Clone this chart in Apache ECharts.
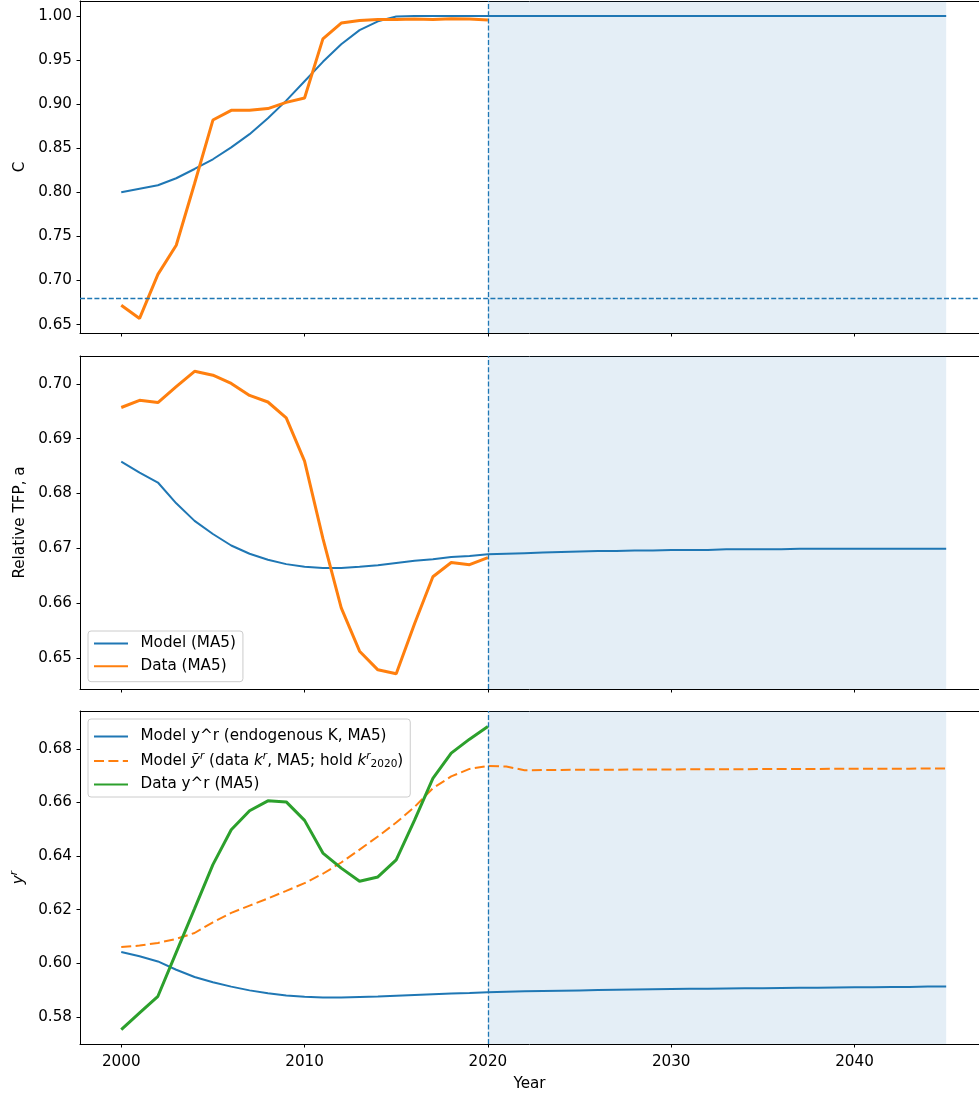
<!DOCTYPE html>
<html>
<head>
<meta charset="utf-8">
<script src="https://cdn.jsdelivr.net/npm/echarts@6/dist/echarts.min.js"></script>
<style>
  html, body { margin: 0; padding: 0; background: #fff; }
  #chart { width: 979px; height: 1095px; }
</style>
</head>
<body>
<div id="chart"></div>
<script>
// Years covered by the model (2000-2045) and by the observed data (2000-2020)
const yearsModel = [2000,2001,2002,2003,2004,2005,2006,2007,2008,2009,2010,2011,2012,2013,2014,2015,
  2016,2017,2018,2019,2020,2021,2022,2023,2024,2025,2026,2027,2028,2029,2030,2031,2032,2033,2034,2035,
  2036,2037,2038,2039,2040,2041,2042,2043,2044,2045];
const yearsData = [2000,2001,2002,2003,2004,2005,2006,2007,2008,2009,2010,2011,2012,2013,2014,2015,
  2016,2017,2018,2019,2020];

// Panel 1: C
const modelC = [0.800,0.804,0.808,0.816,0.8265,0.8375,0.851,0.866,0.884,0.904,0.926,0.948,0.968,0.984,0.994,0.9995,
  1.000,1.000,1.000,1.000,1.000,1.000,1.000,1.000,1.000,1.000,1.000,1.000,1.000,1.000,1.000,1.000,1.000,1.000,1.000,1.000,
  1.000,1.000,1.000,1.000,1.000,1.000,1.000,1.000,1.000,1.000];
const dataC = [0.672,0.657,0.707,0.740,0.810,0.882,0.893,0.893,0.895,0.902,0.907,0.974,0.992,0.995,0.996,0.996,
  0.9965,0.996,0.997,0.9965,0.9955];
const cThreshold = 0.68;

// Panel 2: relative TFP
const modelTFP = [0.6858,0.6838,0.6820,0.6782,0.6750,0.6726,0.6705,0.6690,0.6679,0.6671,0.6666,0.6664,0.6664,0.6666,
  0.6669,0.6673,0.6677,0.6680,0.6684,0.6686,0.6689,0.6690,0.6691,0.6692,0.6693,0.6694,0.6695,0.6695,0.6696,0.6696,
  0.6697,0.6697,0.6697,0.6698,0.6698,0.6698,0.6698,0.6699,0.6699,0.6699,0.6699,0.6699,0.6699,0.6699,0.6699,0.6699];
const dataTFP = [0.6957,0.6970,0.6966,0.6995,0.7023,0.7016,0.7001,0.6979,0.6967,0.6938,0.6859,0.6718,0.6591,0.6512,
  0.6478,0.6471,0.6562,0.6648,0.6674,0.6670,0.6683];

// Panel 3: y^r
const modelY = [0.6042,0.6026,0.6007,0.5976,0.5949,0.5929,0.5913,0.5899,0.5888,0.5880,0.5875,0.5872,0.5872,0.5874,
  0.5876,0.5879,0.5882,0.5885,0.5887,0.5889,0.5892,0.5894,0.5896,0.5897,0.5898,0.5899,0.5900,0.5901,0.5902,0.5903,
  0.5904,0.5905,0.5905,0.5906,0.5907,0.5907,0.5908,0.5909,0.5909,0.5910,0.5911,0.5911,0.5912,0.5912,0.5913,0.5913];
const modelYTilde = [0.6061,0.6066,0.6076,0.6091,0.6113,0.6153,0.6188,0.6215,0.6242,0.6270,0.6299,0.6334,0.6376,0.6424,
  0.6473,0.6525,0.6583,0.6653,0.6697,0.6725,0.6736,0.6734,0.6720,0.6721,0.6721,0.6722,0.6722,0.6722,0.6723,0.6723,
  0.6723,0.6724,0.6724,0.6724,0.6724,0.6725,0.6725,0.6725,0.6725,0.6726,0.6726,0.6726,0.6726,0.6726,0.6727,0.6727];
const dataY = [0.5753,0.5815,0.5877,0.6041,0.6204,0.6368,0.6498,0.6569,0.6606,0.6602,0.6533,0.6411,0.6355,0.6306,
  0.6322,0.6386,0.6534,0.6690,0.6784,0.6836,0.6883];

// Tick positions
const xTicks = [2000,2010,2020,2030,2040];
const cTicks = [0.65,0.70,0.75,0.80,0.85,0.90,0.95,1.00];
const tfpTicks = [0.65,0.66,0.67,0.68,0.69,0.70];
const yTicks = [0.58,0.60,0.62,0.64,0.66,0.68];

// Projection window
const projStart = 2020;
const projEnd = 2045;

const BLUE = '#1f77b4', ORANGE = '#ff7f0e', GREEN = '#2ca02c';
const FONT = 'DejaVu Sans';
const FS = 15.2;
const X_MIN = 1997.75, X_MAX = 2046.79;

const pairs = (xs, ys) => xs.map((x, i) => [x, ys[i]]);

const grids = [
  { left: 80, right: 0, top: 1, height: 332 },
  { left: 80, right: 0, top: 356, height: 333 },
  { left: 80, right: 0, top: 711, height: 333 }
];

const spine = { show: true, onZero: false, lineStyle: { color: '#000', width: 1 } };

function xAxis(i) {
  return {
    type: 'value', gridIndex: i, min: X_MIN, max: X_MAX, position: 'bottom',
    splitLine: { show: false },
    axisLine: spine,
    axisTick: { show: true, inside: false, length: 3.5, customValues: xTicks, lineStyle: { color: '#000', width: 1 } },
    axisLabel: { show: i === 2, customValues: xTicks, margin: 10.5, color: '#000', fontFamily: FONT, fontSize: FS,
      formatter: v => String(v) },
    name: i === 2 ? 'Year' : '',
    nameLocation: 'middle', nameGap: 32.5,
    nameTextStyle: { color: '#000', fontFamily: FONT, fontSize: FS }
  };
}

// top frame line of each panel
function topAxis(i) {
  return {
    type: 'value', gridIndex: i, min: X_MIN, max: X_MAX, position: 'top',
    splitLine: { show: false }, axisTick: { show: false }, axisLabel: { show: false },
    axisLine: spine
  };
}

function yAxis(i, min, max, ticks, name, extra) {
  return Object.assign({
    type: 'value', gridIndex: i, min: min, max: max,
    splitLine: { show: false },
    axisLine: spine,
    axisTick: { show: true, inside: false, length: 3.5, customValues: ticks, lineStyle: { color: '#000', width: 1 } },
    axisLabel: { customValues: ticks, margin: 8, color: '#000', fontFamily: FONT, fontSize: FS,
      formatter: v => v.toFixed(2) },
    name: name, nameLocation: 'middle', nameRotate: 90, nameGap: 51,
    nameTextStyle: { color: '#000', fontFamily: FONT, fontSize: FS }
  }, extra || {});
}

// background band + 2020 marker for each panel
function shadeSeries(i, withThreshold) {
  const lines = [{ xAxis: projStart }];
  if (withThreshold) lines.push({ yAxis: cThreshold });
  return {
    type: 'line', xAxisIndex: i, yAxisIndex: i, data: [], silent: true, z: 1,
    markArea: { silent: true, itemStyle: { color: 'rgba(31,119,180,0.12)' },
      data: [[{ xAxis: projStart }, { xAxis: projEnd }]] },
    markLine: { silent: true, symbol: 'none', label: { show: false }, animation: false,
      lineStyle: { color: BLUE, width: 1.3, type: [5, 2.2] }, data: lines }
  };
}

function line(i, name, xs, ys, color, width, dashed) {
  return {
    type: 'line', name: name, xAxisIndex: i, yAxisIndex: i, data: pairs(xs, ys),
    symbol: 'none', showSymbol: false, z: 3,
    lineStyle: { color: color, width: width, type: dashed ? [10, 4.4] : 'solid' },
    itemStyle: { color: color }
  };
}

const N_MODEL_Y = 'Model y^r (endogenous K, MA5)';
const N_TILDE = 'Model tilde y^r (data k^r, MA5; hold k^r_2020)';
const N_DATA_Y = 'Data y^r (MA5)';

const mathRich = {
  i: { fontFamily: FONT, fontSize: FS, fontStyle: 'italic', color: '#000' },
  sup: { fontFamily: FONT, fontSize: 10.5, fontStyle: 'italic', color: '#000', padding: [0, 0, 9, 0] },
  sub: { fontFamily: FONT, fontSize: 10.5, color: '#000', padding: [7, 0, 0, 0] },
  n: { fontFamily: FONT, fontSize: FS, color: '#000' }
};

const legendBase = {
  orient: 'vertical', selectedMode: false, itemWidth: 34, itemHeight: 15,
  backgroundColor: 'rgba(255,255,255,0.8)', borderColor: '#cccccc', borderWidth: 1, borderRadius: 3,
  itemStyle: { opacity: 0 }
};

const option = {
  animation: false,
  backgroundColor: '#fff',
  grid: grids,
  xAxis: [xAxis(0), xAxis(1), xAxis(2), topAxis(0), topAxis(1), topAxis(2)],
  yAxis: [
    yAxis(0, 0.6405, 1.017, cTicks, 'C'),
    yAxis(1, 0.6443, 0.7051, tfpTicks, 'Relative TFP, a'),
    yAxis(2, 0.5699, 0.6941, yTicks, '{i|y}{sup|r}', {
      nameTextStyle: { color: '#000', fontFamily: FONT, fontSize: FS, rich: mathRich }
    })
  ],
  legend: [
    Object.assign({}, legendBase, {
      data: ['Model (MA5)', 'Data (MA5)'], left: 88, top: 631,
      itemGap: 7.7, padding: [5, 7, 8, 5],
      textStyle: { fontFamily: FONT, fontSize: FS, color: '#000', padding: [0, 0, 0, 7.5] }
    }),
    Object.assign({}, legendBase, {
      data: [N_MODEL_Y, N_TILDE, N_DATA_Y], left: 88, top: 719,
      itemGap: 7, padding: [10, 7, 5, 5],
      textStyle: { fontFamily: FONT, fontSize: FS, color: '#000', padding: [0, 0, 0, 7.5], rich: mathRich },
      formatter: function (name) {
        if (name === N_TILDE) {
          return '{n|Model }{i|ỹ}{sup|r}{n| (data }{i|k}{sup|r}{n|, MA5; hold }{i|k}{sup|r}{sub|2020}{n|)}';
        }
        return '{n|' + name + '}';
      }
    })
  ],
  series: [
    shadeSeries(0, true),
    line(0, 'C model', yearsModel, modelC, BLUE, 2),
    line(0, 'C data', yearsData, dataC, ORANGE, 3),

    shadeSeries(1, false),
    line(1, 'Model (MA5)', yearsModel, modelTFP, BLUE, 2),
    line(1, 'Data (MA5)', yearsData, dataTFP, ORANGE, 3),

    shadeSeries(2, false),
    line(2, N_MODEL_Y, yearsModel, modelY, BLUE, 2),
    line(2, N_TILDE, yearsModel, modelYTilde, ORANGE, 2, true),
    line(2, N_DATA_Y, yearsData, dataY, GREEN, 3)
  ]
};

const chart = echarts.init(document.getElementById('chart'), null, { renderer: 'canvas' });
chart.setOption(option);
</script>
</body>
</html>
